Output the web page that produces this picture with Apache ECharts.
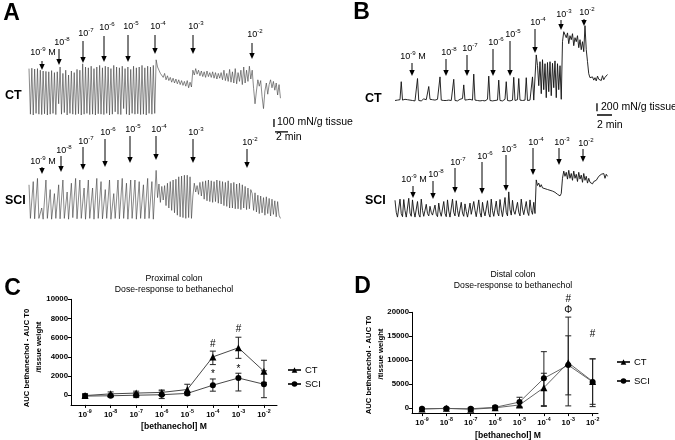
<!DOCTYPE html>
<html><head><meta charset="utf-8">
<script src="https://cdn.jsdelivr.net/npm/echarts@6/dist/echarts.min.js"></script>
<style>html,body{margin:0;padding:0;background:#fff}#c{width:675px;height:440px}</style>
</head><body><div id="c"></div>
<script>
// ================= DATA =================
// Panel A traces (mN/g tissue), one sample every A_DT minutes
const A_DT = 0.217;
const A_CT = [
580,10,585,0,575,20,580,10,560,5,550,15,545,0,540,10,555,20,530,5,540,140,600,10,520,30,560,0,500,20,550,10,530,5,570,15,560,0,640,10,
600,20,590,5,610,10,580,0,600,15,620,10,590,5,610,20,600,0,580,10,620,40,600,10,590,5,610,80,580,10,600,0,570,20,610,10,590,15,600,5,
620,10,590,0,610,20,600,10,620,20,
690,600,560,520,500,470,520,440,490,430,470,410,460,400,450,390,440,380,430,370,420,360,430,340,410,350,
560,500,580,510,560,490,550,480,540,470,550,480,530,470,540,460,530,450,520,460,530,440,560,430,520,420,570,410,540,400,580,390,530,420,560,380,600,400,560,420,610,450,
560,330,140,300,440,360,430,230,80,300,400,260,380,440,340,420,310,400,250,380,210];
const A_SCI = [
440,20,10,480,15,5,520,20,10,150,10,5,500,20,15,380,10,5,330,20,10,440,15,5,500,20,10,350,10,5,460,30,10,520,15,5,500,20,10,400,10,5,500,20,15,
400,10,5,520,20,10,480,15,5,380,20,10,500,10,5,330,20,10,500,15,5,520,20,10,460,10,5,500,20,15,500,10,5,480,20,10,440,15,5,520,20,10,480,10,5,
620,280,450,220,420,250,430,180,460,150,480,120,500,90,510,60,540,40,550,30,560,20,560,30,540,20,
300,460,350,430,320,470,300,480,260,490,240,500,230,490,220,480,230,500,210,490,200,480,180,470,170,490,150,460,150,470,140,450,140,460,130,440,150,420,130,400,140,380,
330,120,340,100,310,80,300,90,280,60,290,80,270,50,260,70,240,40,230,60,20];
// Panel B traces (mN/g tissue), one sample every B_DT minutes
const B_DT = 1/6;
const B_CT = [
30,10,40,20,50,500,40,20,60,30,50,20,40,60,30,50,20,40,580,30,60,20,40,70,30,50,90,380,60,30,50,20,40,30,60,20,620,
40,20,30,10,30,20,40,20,30,40,560,30,50,20,40,60,30,80,420,40,20,50,30,60,20,40,690,40,20,30,50,20,40,30,50,20,40,60,
640,30,50,20,40,30,60,40,540,30,50,20,40,60,500,30,40,20,50,40,610,30,20,50,580,40,20,30,60,40,600,30,20,40,60,620,40,80,
1170,900,400,1000,200,1050,300,950,100,980,250,1000,150,960,350,1020,100,950,300,900,60,
1500,1750,1700,1600,1720,1450,1650,1550,1700,1400,1600,1500,1650,1350,1550,1300,1500,1250,1900,1300,
1000,700,600,560,620,540,600,520,640,560,600,530,650,550,610,560,680];
const B_SCI = [
450,150,30,20,480,120,40,470,200,30,20,500,130,50,460,180,30,40,420,100,30,480,200,50,20,350,120,60,300,150,80,60,330,100,40,
380,160,50,30,420,120,40,460,180,30,20,480,150,60,440,200,40,30,400,130,50,360,170,30,20,380,100,60,420,200,40,20,460,140,30,
400,180,60,40,440,120,30,480,190,50,30,430,140,60,470,210,40,50,520,150,60,660,220,80,450,180,100,70,400,150,60,480,230,90,80,
420,160,70,460,200,100,400,120,
960,820,880,780,840,760,800,740,790,720,760,700,740,680,720,650,700,600,640,560,620,
1000,1180,1050,1150,980,1200,1000,1120,950,1180,1000,1100,920,1150,980,1080,900,1120,950,1050,880,1000,900,950,860,920,880,950,980,1050,1000,1100,1050,1120,1000,1100,1050];

// Dose-response (AUC bethanechol - AUC T0 / tissue weight)
const CONC_EXP = ['-9','-8','-7','-6','-5','-4','-3','-2'];
const C_CT_MEAN = [-30,150,230,300,600,4000,4950,2500];
const C_CT_LOW  = [-230,-50,30,50,50,3200,3850,1350];
const C_CT_HIGH = [170,350,430,550,1150,4600,6050,3650];
const C_SCI_MEAN = [-80,-50,10,60,200,1050,1800,1150];
const C_SCI_LOW  = [-230,-150,-240,-340,50,430,450,-250];
const C_SCI_HIGH = [70,50,260,460,350,1700,2300,2550];
const C_Y_TICKS = [0,2000,4000,6000,8000,10000];
const C_MARK_IDX = [5,5,6,6];
const C_MARK_VAL = [5340,2200,6875,2700];
const C_MARK_TXT = ['#','*','#','*'];

const D_CT_MEAN = [-150,0,-200,100,700,4300,9500,5600];
const D_CT_LOW  = [-300,-150,-450,-150,200,550,2800,830];
const D_CT_HIGH = [0,150,50,400,1200,7300,15100,10300];
const D_SCI_MEAN = [-100,-50,-100,200,1300,6250,9000,5500];
const D_SCI_LOW  = [-250,-200,-300,-100,300,400,500,350];
const D_SCI_HIGH = [50,100,100,500,2300,11800,19000,10300];
const D_Y_TICKS = [0,5000,10000,15000,20000];
const D_MARK_IDX = [6,6,7];
const D_MARK_VAL = [22700,20330,15420];
const D_MARK_TXT = ['#','\u03A6','#'];

// ================= CHART =================
const FF = 'Liberation Sans, Arial, Helvetica, sans-serif';
const chart = echarts.init(document.getElementById('c'), null, {renderer:'canvas'});

function rich(size, bold){
  const w = bold ? 'bold' : 'normal';
  return {
    b:{fontSize:size, fontWeight:w, fontFamily:FF, color:'#000', lineHeight:Math.round(size*1.45), verticalAlign:'middle'},
    s:{fontSize:Math.round(size*0.68*10)/10, fontWeight:w, fontFamily:FF, color:'#000', lineHeight:6, verticalAlign:'top'}
  };
}
const gfx = [];
function T(x, y, text, size, o){
  o = o || {};
  gfx.push({type:'text', x:x, y:y, rotation:o.rot||0, silent:true, z:10,
    style:{text:text, fontSize:size, fontWeight:o.bold?'bold':'normal', fontFamily:FF, fill:'#000',
      align:o.align||'center', verticalAlign:'middle', rich:rich(size, o.bold)}});
}
function arrow(x, top, tip){
  gfx.push({type:'line', silent:true, shape:{x1:x, y1:top, x2:x, y2:tip-5}, style:{stroke:'#000', lineWidth:1}});
  gfx.push({type:'polygon', silent:true, shape:{points:[[x-2.7,tip-6],[x+2.7,tip-6],[x,tip]]}, style:{fill:'#000'}});
}
// arrows: [x, textY, lineTop, tip, exponent, withM]
const ARROWS = [
 // A CT
 [42,53,61,70,'-9',1],[59,43,49,65,'-8',0],[83,34,41,63,'-7',0],[104,28,36,62,'-6',0],[128,27,35,62,'-5',0],[155,27,35,54,'-4',0],[193,27,35,54,'-3',0],[252,35,43,59,'-2',0],
 // A SCI
 [42,162,167,174,'-9',1],[61,151,156,172,'-8',0],[83,142,147,170,'-7',0],[105,133,139,167,'-6',0],[130,130,136,163,'-5',0],[156,130,136,160,'-4',0],[193,133,139,163,'-3',0],[247,143,149,168,'-2',0],
 // B CT
 [412,57,63,76,'-9',1],[446,53,59,76,'-8',0],[467,49,55,76,'-7',0],[493,43,49,76,'-6',0],[510,35,41,76,'-5',0],[535,23,29,53,'-4',0],[561,15,20,30,'-3',0],[584,13,19,26,'-2',0],
 // B SCI
 [413,180,186,198,'-9',1],[433,175,181,199,'-8',0],[455,163,168,193,'-7',0],[482,157,162,194,'-6',0],[506,150,155,191,'-5',0],[533,143,148,175,'-4',0],[559,143,148,165,'-3',0],[583,144,149,162,'-2',0]
];
ARROWS.forEach(a=>{
  arrow(a[0], a[2], a[3]);
  const txt = '{b|10}{s|' + a[4] + '}' + (a[5] ? '{b| M}' : '');
  T(a[0] + (a[5] ? 1 : 3), a[1], txt, 9);
});
// panel letters
T(11.5,13.5,'A',23,{bold:1}); T(361.5,13,'B',23,{bold:1}); T(12.5,288.5,'C',23,{bold:1}); T(362.5,286.5,'D',23,{bold:1});
// row labels
T(5,96,'CT',12.5,{bold:1,align:'left'}); T(5,201,'SCI',12.5,{bold:1,align:'left'});
T(365,99,'CT',12.5,{bold:1,align:'left'}); T(365,201,'SCI',12.5,{bold:1,align:'left'});
// scale bar texts
T(277,122.5,'100 mN/g tissue',10.5,{align:'left'}); T(276,137.5,'2 min',10.5,{align:'left'});
T(601,107.5,'200 mN/g tissue',10.5,{align:'left'}); T(597,125,'2 min',10.5,{align:'left'});
// C texts
T(174,278.7,'Proximal colon',8.7); T(174,289.5,'Dose-response to bethanechol',8.7);
T(27,358,'AUC bethanechol - AUC T0',7.7,{bold:1,rot:Math.PI/2}); T(39,347,'/tissue weight',7.7,{bold:1,rot:Math.PI/2});
T(174,427,'[bethanechol] M',8.6,{bold:1});
// D texts
T(513,275,'Distal colon',8.7); T(513,286,'Dose-response to bethanechol',8.7);
T(369,365,'AUC bethanechol - AUC T0',7.7,{bold:1,rot:Math.PI/2}); T(381,354,'/tissue weight',7.7,{bold:1,rot:Math.PI/2});
T(508,436,'[bethanechol] M',8.6,{bold:1});

const toXY = (arr, dt) => arr.map((v,i)=>[+(i*dt).toFixed(4), v]);
const hiddenX = (min,max,g)=>({type:'value', gridIndex:g, min:min, max:max, show:false});
const hiddenY = (min,max,g)=>({type:'value', gridIndex:g, min:min, max:max, show:false});

function traceSeries(arr, dt, idx, w, col){
  return {type:'line', name:'trace'+idx, xAxisIndex:idx, yAxisIndex:idx, data:toXY(arr,dt), showSymbol:false, symbol:'none',
    lineStyle:{width:w, color:col}, silent:true, animation:false, clip:false};
}
function barSeries(idx, pts){
  return {type:'line', name:'scale'+idx, xAxisIndex:idx, yAxisIndex:idx, data:pts, showSymbol:false, symbol:'none',
    lineStyle:{width:1.3, color:'#000'}, silent:true, animation:false, clip:false};
}

const catAxis = (g, min, max) => ({type:'value', gridIndex:g, min:min, max:max,
  axisLine:{show:true, onZero:false, lineStyle:{color:'#000', width:1}},
  axisTick:{show:true, customValues:[0,1,2,3,4,5,6,7], length:3, lineStyle:{color:'#000'}},
  axisLabel:{show:true, customValues:[0,1,2,3,4,5,6,7], margin:4,
    formatter:v=>'{b|10}{s|' + CONC_EXP[Math.round(v)] + '}', rich:rich(7.8,true)},
  splitLine:{show:false}});
const valAxis = (g, min, max, ticks) => ({type:'value', gridIndex:g, min:min, max:max,
  axisLine:{show:true, onZero:false, lineStyle:{color:'#000', width:1}},
  axisTick:{show:true, customValues:ticks, length:3, lineStyle:{color:'#000'}},
  axisLabel:{show:true, customValues:ticks, margin:3, formatter:v=>String(v), fontSize:7.8, fontWeight:'bold', fontFamily:FF, color:'#000'},
  splitLine:{show:false}});

function errSeries(g, lo, hi, col){
  return {type:'custom', xAxisIndex:g, yAxisIndex:g, silent:true, animation:false, z:1,
    data: lo.map((v,i)=>[i, v, hi[i]]),
    encode:{x:0, y:[1,2]},
    renderItem:(p, api)=>{
      const x = api.value(0);
      const a = api.coord([x, api.value(1)]), b = api.coord([x, api.value(2)]);
      const st = {stroke:col, lineWidth:1};
      return {type:'group', children:[
        {type:'line', shape:{x1:a[0], y1:a[1], x2:b[0], y2:b[1]}, style:st},
        {type:'line', shape:{x1:a[0]-3, y1:a[1], x2:a[0]+3, y2:a[1]}, style:st},
        {type:'line', shape:{x1:b[0]-3, y1:b[1], x2:b[0]+3, y2:b[1]}, style:st}
      ]};
    }};
}
function markSeries(g, idx, val, txt){
  return {type:'custom', xAxisIndex:g, yAxisIndex:g, silent:true, animation:false,
    data: idx.map((v,i)=>[v, val[i]]),
    renderItem:(p, api)=>{
      const c = api.coord([api.value(0), api.value(1)]);
      return {type:'text', x:c[0], y:c[1], style:{text:txt[p.dataIndex], fontSize:10, fontFamily:FF, fill:'#000', align:'center', verticalAlign:'middle'}};
    }};
}
function drSeries(g, name, mean, sym, col){
  return {type:'line', name:name, xAxisIndex:g, yAxisIndex:g, data:mean.map((v,i)=>[i,v]),
    symbol:sym, symbolSize:sym==='triangle'?7:6, showSymbol:true,
    itemStyle:{color:'#000'}, lineStyle:{color:col, width:0.9}, animation:false, z:3};
}

const option = {
  animation:false,
  backgroundColor:'#fff',
  grid:[
    {left:29, top:59, width:260.4, height:76},
    {left:29, top:168, width:260.4, height:56},
    {left:395, top:23.7, width:225, height:92},
    {left:395, top:168.3, width:225, height:52},
    {left:71, top:299.3, width:206, height:105.6},
    {left:412, top:312.3, width:186, height:100.8}
  ],
  xAxis:[hiddenX(0,40,0), hiddenX(0,40,1), hiddenX(0,30,2), hiddenX(0,30,3), catAxis(4,-0.55,7.51), catAxis(5,-0.41,7.22)],
  yAxis:[hiddenY(-250,700,0), hiddenY(-50,650,1), hiddenY(-350,1950,2), hiddenY(-50,1250,3),
    valAxis(4,-1000,10000,C_Y_TICKS), valAxis(5,-1000,20000,D_Y_TICKS)],
  legend:[
    {data:['CT','SCI'], orient:'vertical', left:282, top:360, itemWidth:13, itemHeight:7, itemGap:4,
      textStyle:{fontSize:9.5, fontFamily:FF, color:'#000', padding:[0,0,0,-1]}},
    {data:['CT','SCI'], orient:'vertical', left:611, top:352, itemWidth:13, itemHeight:7, itemGap:9,
      textStyle:{fontSize:9.5, fontFamily:FF, color:'#000', padding:[0,0,0,-1]}}
  ],
  series:[
    traceSeries(A_CT, A_DT, 0, 0.6, '#3a3a3a'),
    traceSeries(A_SCI, A_DT, 1, 0.6, '#3a3a3a'),
    traceSeries(B_CT, B_DT, 2, 0.9, '#111'),
    traceSeries(B_SCI, B_DT, 3, 0.9, '#111'),
    barSeries(0, [[37.63,-50],[37.63,-150]]),
    barSeries(0, [[37.79,-210],[39.79,-210]]),
    barSeries(2, [[26.93,-40],[26.93,-240]]),
    barSeries(2, [[26.93,-333],[28.93,-333]]),
    errSeries(4, C_CT_LOW, C_CT_HIGH, '#222'),
    errSeries(4, C_SCI_LOW, C_SCI_HIGH, '#222'),
    drSeries(4, 'CT', C_CT_MEAN, 'triangle', '#333'),
    drSeries(4, 'SCI', C_SCI_MEAN, 'circle', '#333'),
    markSeries(4, C_MARK_IDX, C_MARK_VAL, C_MARK_TXT),
    errSeries(5, D_CT_LOW, D_CT_HIGH, '#222'),
    errSeries(5, D_SCI_LOW, D_SCI_HIGH, '#222'),
    drSeries(5, 'CT', D_CT_MEAN, 'triangle', '#555'),
    drSeries(5, 'SCI', D_SCI_MEAN, 'circle', '#555'),
    markSeries(5, D_MARK_IDX, D_MARK_VAL, D_MARK_TXT)
  ],
  graphic: gfx
};
chart.setOption(option);
</script></body></html>
